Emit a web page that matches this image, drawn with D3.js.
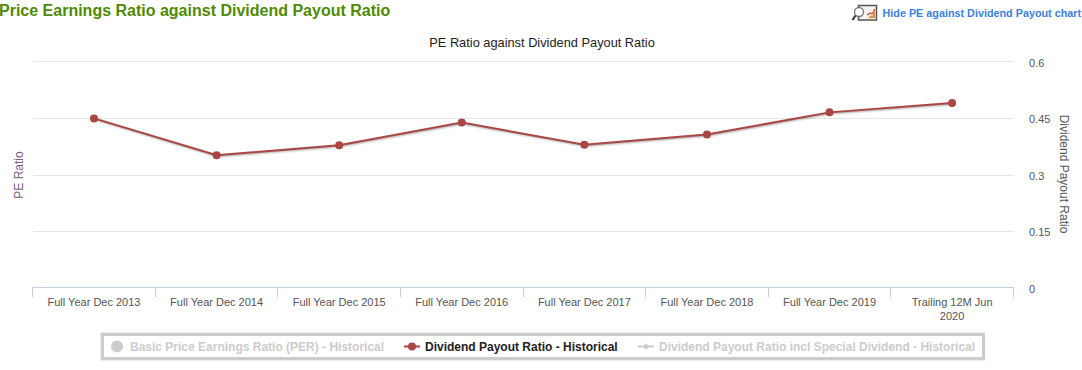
<!DOCTYPE html>
<html>
<head>
<meta charset="utf-8">
<script src="https://cdnjs.cloudflare.com/ajax/libs/d3/7.8.5/d3.min.js"></script>
<style>
	html, body { margin: 0; padding: 0; background: #fff; overflow: hidden; }
	svg { display: block; }
	text { font-family: "Liberation Sans", Arial, sans-serif; }
</style>
</head>
<body>
<script>
var categories = [
	'Full Year Dec 2013',
	'Full Year Dec 2014',
	'Full Year Dec 2015',
	'Full Year Dec 2016',
	'Full Year Dec 2017',
	'Full Year Dec 2018',
	'Full Year Dec 2019',
	'Trailing 12M Jun 2020'
];
var payoutValues = [0.449, 0.351, 0.378, 0.438, 0.379, 0.406, 0.465, 0.490];
var rightTicks = [0, 0.15, 0.3, 0.45, 0.6];
var pageTitle = 'Price Earnings Ratio against Dividend Payout Ratio';
var chartTitle = 'PE Ratio against Dividend Payout Ratio';
var linkText = 'Hide PE against Dividend Payout chart';
var legendLabels = [
	'Basic Price Earnings Ratio (PER) - Historical',
	'Dividend Payout Ratio - Historical',
	'Dividend Payout Ratio incl Special Dividend - Historical'
];

function drawChart() {
	var width = 1082;
	var height = 370;
	var left = 32.7;
	var right = 1013.4;
	var top = 61.5;
	var bottom = 287.6;
	var lineColor = '#aa4643';
	var greyed = '#cccccc';

	var svg = d3.select('body').append('svg')
		.attr('width', width)
		.attr('height', height);

	var xScale = d3.scaleBand()
		.domain(categories)
		.range([left, right]);

	var yScale = d3.scaleLinear()
		.domain([0, 0.6])
		.range([bottom, top]);

	svg.append('text')
		.text(pageTitle)
		.attr('x', -1)
		.attr('y', 16)
		.attr('font-size', 16)
		.attr('font-weight', 'bold')
		.attr('fill', '#4f8a00');

	// little magnifier + chart icon next to the link
	var icon = svg.append('g').attr('transform', 'translate(852,5)');
	icon.append('rect')
		.attr('x', 6.5).attr('y', 0.5).attr('width', 18).attr('height', 14.5)
		.attr('fill', '#f4f4f0').attr('stroke', '#555').attr('stroke-width', 1.5);
	icon.append('path')
		.attr('d', 'M16 13 L19 10 L20 12 L23 5 L23 13 Z')
		.attr('fill', '#e0893a');
	icon.append('path')
		.attr('d', 'M15 10 L18 8 L20 9 L23 4')
		.attr('fill', 'none').attr('stroke', '#d9422b').attr('stroke-width', 1.2);
	icon.append('circle')
		.attr('cx', 7).attr('cy', 7).attr('r', 4.5)
		.attr('fill', '#fff').attr('stroke', '#777').attr('stroke-width', 1.3);
	icon.append('line')
		.attr('x1', 3.5).attr('y1', 10.5).attr('x2', 0.5).attr('y2', 15)
		.attr('stroke', '#333').attr('stroke-width', 2);

	svg.append('text')
		.text(linkText)
		.attr('x', 882.5)
		.attr('y', 17)
		.attr('font-size', 10.8)
		.attr('font-weight', 'bold')
		.attr('fill', '#3b7fe0');

	svg.append('text')
		.text(chartTitle)
		.attr('x', 542)
		.attr('y', 47)
		.attr('text-anchor', 'middle')
		.attr('font-size', 12.8)
		.attr('fill', '#222');

	// gridlines, snapped to whole pixels
	svg.append('g')
		.selectAll('line')
		.data(rightTicks.filter(function(d) { return d > 0; }))
		.enter()
		.append('line')
		.attr('x1', 33)
		.attr('x2', 1014)
		.attr('y1', function(d) { return Math.round(yScale(d) - 0.04) + 0.5; })
		.attr('y2', function(d) { return Math.round(yScale(d) - 0.04) + 0.5; })
		.attr('stroke', '#e6e6e6');

	// right axis, labels only
	var rightAxis = d3.axisRight(yScale)
		.tickValues(rightTicks)
		.tickSize(0)
		.tickPadding(0)
		.tickFormat(function(d) { return String(d); });

	var rightG = svg.append('g')
		.attr('transform', 'translate(1029,1)')
		.call(rightAxis);
	rightG.select('.domain').remove();
	rightG.selectAll('text')
		.attr('font-size', 11)
		.attr('font-family', '"Liberation Sans", Arial, sans-serif')
		.attr('fill', '#555');

	// bottom axis, ticks sit on the band edges so they are drawn apart
	var bottomAxis = d3.axisBottom(xScale).tickSize(0).tickPadding(11);
	var bottomG = svg.append('g')
		.attr('transform', 'translate(0,287)')
		.call(bottomAxis);
	bottomG.select('.domain')
		.attr('stroke', '#c0d0e0');
	bottomG.selectAll('text')
		.attr('font-size', 11)
		.attr('font-family', '"Liberation Sans", Arial, sans-serif')
		.attr('fill', '#555')
		.each(function(d) {
			if (d.length < 20) return;
			var words = d.split(' ');
			var last = words.pop();
			var el = d3.select(this).text(null);
			el.append('tspan').attr('x', 0).text(words.join(' '));
			el.append('tspan').attr('x', 0).attr('dy', 14).text(last);
		});

	var edges = categories.map(function(d) { return xScale(d); }).concat([right]);
	svg.append('g')
		.selectAll('line')
		.data(edges)
		.enter()
		.append('line')
		.attr('x1', function(d) { return Math.floor(d) + 0.5; })
		.attr('x2', function(d) { return Math.floor(d) + 0.5; })
		.attr('y1', 287)
		.attr('y2', 297)
		.attr('stroke', '#c0d0e0');

	svg.append('text')
		.text('PE Ratio')
		.attr('transform', 'translate(23,175) rotate(-90)')
		.attr('text-anchor', 'middle')
		.attr('font-size', 12)
		.attr('fill', '#7b5b84');

	svg.append('text')
		.text('Dividend Payout Ratio')
		.attr('transform', 'translate(1060,174) rotate(90)')
		.attr('text-anchor', 'middle')
		.attr('font-size', 12)
		.attr('fill', '#555');

	var line = d3.line()
		.x(function(d, i) { return xScale(categories[i]) + xScale.bandwidth() / 2; })
		.y(function(d) { return yScale(d); });

	// soft shadow under the series line
	[[5, 0.05], [3, 0.1], [1, 0.15]].forEach(function(s) {
		svg.append('path')
			.attr('d', line(payoutValues))
			.attr('transform', 'translate(1,1)')
			.attr('fill', 'none')
			.attr('stroke', '#000')
			.attr('stroke-opacity', s[1])
			.attr('stroke-width', s[0]);
	});

	svg.append('path')
		.attr('d', line(payoutValues))
		.attr('fill', 'none')
		.attr('stroke', lineColor)
		.attr('stroke-width', 2);

	svg.append('g')
		.selectAll('circle')
		.data(payoutValues)
		.enter()
		.append('circle')
		.attr('cx', function(d, i) { return xScale(categories[i]) + xScale.bandwidth() / 2; })
		.attr('cy', function(d) { return yScale(d); })
		.attr('r', 4)
		.attr('fill', lineColor);

	// legend
	svg.append('rect')
		.attr('x', 100.5).attr('y', 332.5).attr('width', 884).attr('height', 28)
		.attr('fill', '#fff').attr('stroke', '#eeeeee');
	svg.append('rect')
		.attr('x', 102.5).attr('y', 334.5).attr('width', 881).attr('height', 24)
		.attr('fill', '#fff').attr('stroke', '#cccccc').attr('stroke-width', 3);

	var legendY = 346.5;
	svg.append('circle')
		.attr('cx', 117).attr('cy', legendY).attr('r', 6).attr('fill', greyed);

	svg.append('line')
		.attr('x1', 404).attr('x2', 420).attr('y1', legendY).attr('y2', legendY)
		.attr('stroke', lineColor).attr('stroke-width', 2);
	svg.append('circle')
		.attr('cx', 412).attr('cy', legendY).attr('r', 4).attr('fill', lineColor);

	svg.append('line')
		.attr('x1', 638).attr('x2', 654).attr('y1', legendY).attr('y2', legendY)
		.attr('stroke', greyed).attr('stroke-width', 2);
	svg.append('path')
		.attr('d', d3.symbol().type(d3.symbolDiamond2).size(28)())
		.attr('transform', 'translate(646,' + legendY + ')')
		.attr('fill', greyed);

	var legendX = [130, 425, 659];
	svg.append('g')
		.selectAll('text')
		.data(legendLabels)
		.enter()
		.append('text')
		.text(function(d) { return d; })
		.attr('x', function(d, i) { return legendX[i]; })
		.attr('y', 351)
		.attr('font-size', 12)
		.attr('font-weight', 'bold')
		.attr('fill', function(d, i) { return i === 1 ? '#222' : greyed; });
}

window.onload = drawChart;
</script>
</body>
</html>
